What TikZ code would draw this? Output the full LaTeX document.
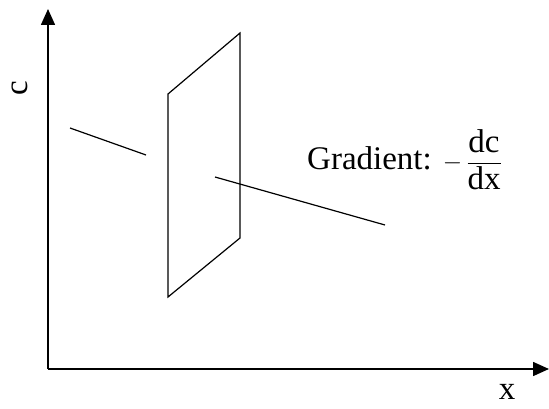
\documentclass[tikz,border=0pt]{standalone}
\usepackage{fontspec}
\usepackage{amsmath}
\setmainfont{Liberation Serif}
\usetikzlibrary{arrows.meta}
\begin{document}
\begin{tikzpicture}[x=1pt,y=-1pt,
  axis/.style={line width=1.6pt,-{Triangle[length=16pt,width=14pt]}},
  thin line/.style={line width=1.2pt,line join=miter},
  lbl/.style={font=\fontsize{33}{40}\selectfont,inner sep=0pt}]
\useasboundingbox (0,0) rectangle (549,409);
\coordinate (o) at (48,369);
\coordinate (ytip) at (48,9);
\coordinate (xtip) at (549,369);
\draw[axis] (o) -- (ytip);
\draw[axis] (o) -- (xtip);
\node[lbl,rotate=90] (clab) at (20,88) {c};
\node[lbl] (xlab) at (507,392) {x};
\coordinate (p1) at (168,94);
\coordinate (p2) at (240,33);
\coordinate (p3) at (240,238);
\coordinate (p4) at (168,297);
\draw[thin line] (p1) -- (p2) -- (p3) -- (p4) -- cycle;
\coordinate (a1) at (70,128);
\coordinate (a2) at (146,155);
\draw[thin line] (a1) -- (a2);
\coordinate (b1) at (215,177);
\coordinate (b2) at (385,225);
\draw[thin line] (b1) -- (b2);
\node[lbl,anchor=west] (grad) at (307,160) {Gradient:\,\,$-\,\dfrac{\text{dc}}{\text{dx}}$};
\end{tikzpicture}
\end{document}
